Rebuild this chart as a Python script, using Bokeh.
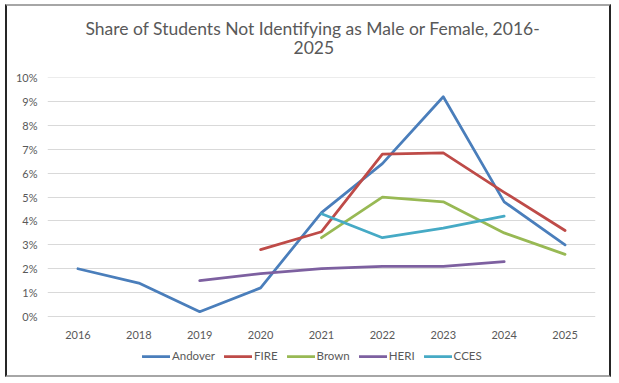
from bokeh.plotting import figure
from bokeh.models import (FactorRange, Range1d, FixedTicker, NumeralTickFormatter,
                          Legend, LegendItem, Title, ColumnDataSource)
from bokeh.embed import file_html
from bokeh.resources import INLINE

years = ["2016", "2018", "2019", "2020", "2021", "2022", "2023", "2024", "2025"]
andover = [0.020, 0.014, 0.002, 0.012, 0.0435, 0.064, 0.092, 0.048, 0.030]
fire = [None, None, None, 0.028, 0.0355, 0.068, 0.0685, 0.052, 0.036]
brown = [None, None, None, None, 0.033, 0.050, 0.048, 0.035, 0.026]
heri = [None, None, 0.015, 0.018, 0.020, 0.021, 0.021, 0.023, None]
cces = [None, None, None, None, 0.043, 0.033, 0.037, 0.042, None]
y_ticks = [0.0, 0.01, 0.02, 0.03, 0.04, 0.05, 0.06, 0.07, 0.08, 0.09, 0.10]
title_line1 = "Share of Students Not Identifying as Male or Female, 2016-"
title_line2 = "2025"

series = [
    ("Andover", andover, "#4A7EBB"),
    ("FIRE", fire, "#BE4B48"),
    ("Brown", brown, "#98B954"),
    ("HERI", heri, "#7D60A0"),
    ("CCES", cces, "#46AAC5"),
]

FONT = "Lato"
GRAY = "#595959"

p = figure(x_range=FactorRange(*years, range_padding=0),
           y_range=Range1d(-0.01925, 0.10005),
           width=602, height=369,
           frame_width=548, frame_height=285,
           min_border_left=40, min_border_right=14, min_border_top=71, min_border_bottom=13,
           output_backend="svg", toolbar_location=None, title=None)
p.styles = {
    "margin": "4px 0 0 5px",
    "border-top": "2px solid #A6A6A6",
    "border-bottom": "2px solid #A6A6A6",
    "border-left": "2px solid #262626",
    "border-right": "2px solid #262626",
}
p.outline_line_color = None
p.background_fill_color = "white"
p.border_fill_color = "white"

p.xgrid.grid_line_color = None
p.ygrid.grid_line_color = "#D9D9D9"
p.ygrid.grid_line_width = 1
p.yaxis.ticker = FixedTicker(ticks=y_ticks)
p.yaxis.formatter = NumeralTickFormatter(format="0%")
for ax in (p.xaxis[0], p.yaxis[0]):
    ax.axis_line_color = None
    ax.major_tick_line_color = None
    ax.minor_tick_line_color = None
    ax.major_tick_out = 0
    ax.major_tick_in = 0
    ax.major_label_text_font = FONT
    ax.major_label_text_font_size = "11px"
    ax.major_label_text_color = GRAY
p.yaxis.major_label_standoff = 10
p.xaxis.major_label_standoff = 0
p.xaxis.fixed_location = -0.006

items = []
for name, vals, color in series:
    xs = [y for y, v in zip(years, vals) if v is not None]
    ys = [v for v in vals if v is not None]
    src = ColumnDataSource(dict(x=xs, y=ys))
    r = p.line("x", "y", source=src, line_color=color, line_width=2.75,
               line_join="round", line_cap="round")
    items.append(LegendItem(label=name, renderers=[r]))

legend = Legend(items=items, orientation="horizontal", location=(95, 0),
                label_text_font=FONT, label_text_font_size="11.5px", label_text_color=GRAY,
                glyph_width=28, glyph_height=12, label_standoff=2, spacing=9,
                padding=0, margin=0,
                border_line_color=None, background_fill_alpha=0)
p.add_layout(legend, "center")

# spacer keeps the two title lines clear of the plot area
p.add_layout(Title(text=" ", align="left", text_font=FONT, text_font_size="17.5px",
                   text_font_style="normal", text_color="white", standoff=1), "above")
p.add_layout(Title(text=title_line2, align="left", text_font=FONT, text_font_size="17.5px",
                   text_font_style="normal", text_color=GRAY, offset=246, standoff=0), "above")
p.add_layout(Title(text=title_line1, align="left", text_font=FONT, text_font_size="17.5px",
                   text_font_style="normal", text_color=GRAY, offset=38, standoff=0), "above")

open("out.html", "w").write(file_html(p, INLINE))
